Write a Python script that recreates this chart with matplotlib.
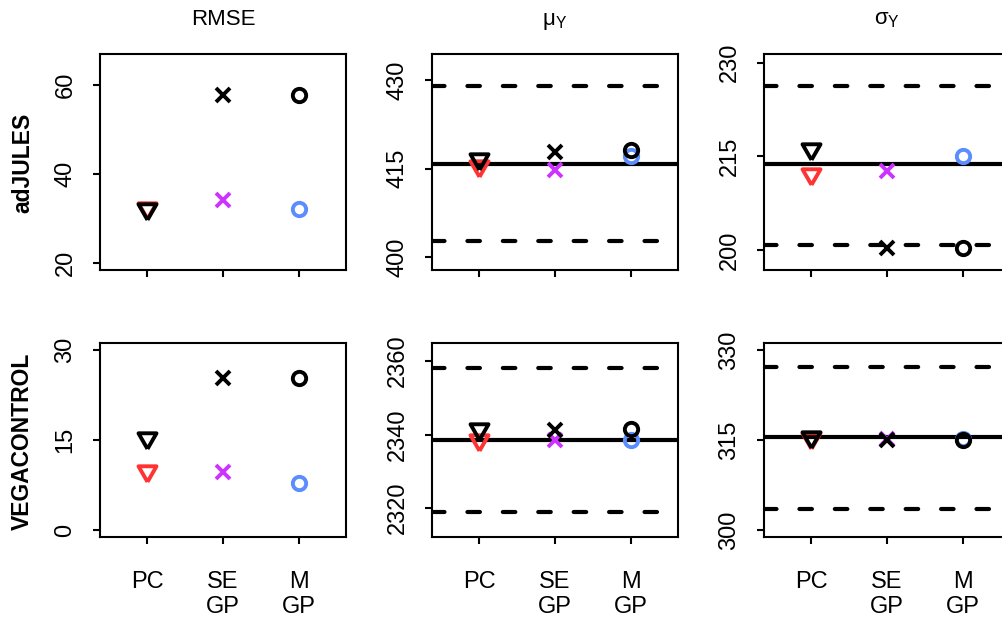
import numpy as np
import matplotlib.pyplot as plt

plt.rcParams['font.family'] = ['Liberation Sans', 'DejaVu Sans']
plt.rcParams['mathtext.fontset'] = 'custom'
plt.rcParams['mathtext.rm'] = 'Liberation Sans'
plt.rcParams['mathtext.it'] = 'Liberation Sans:italic'

# methods on the x axis
methods = ['PC', 'SE\nGP', 'M\nGP']
rows = ['adJULES', 'VEGACONTROL']
cols = ['RMSE', r'$\mathrm{\mu_Y}$', r'$\mathrm{\sigma_Y}$']

# black markers (triangle, x, circle) per row / column
black_adjules_rmse = [32.3, 57.8, 57.8]
black_adjules_mu = [416.7, 417.9, 418.1]
black_adjules_sigma = [216.2, 200.4, 200.4]
black_vega_rmse = [15.3, 25.4, 25.4]
black_vega_mu = [2341.4, 2341.3, 2341.4]
black_vega_sigma = [315.5, 315.0, 315.0]

# coloured markers
col_adjules_rmse = [32.5, 34.2, 32.3]
col_adjules_mu = [415.4, 414.7, 417.1]
col_adjules_sigma = [212.1, 212.6, 215.0]
col_vega_rmse = [9.8, 9.6, 7.9]
col_vega_mu = [2338.4, 2338.4, 2338.6]
col_vega_sigma = [315.3, 315.1, 315.1]

# reference lines: truth, lower and upper bounds (None for RMSE)
truth_adjules = [None, 415.85, 213.8]
lower_adjules = [None, 402.8, 200.8]
upper_adjules = [None, 429.0, 226.3]
truth_vega = [None, 2338.6, 315.55]
lower_vega = [None, 2319.1, 303.5]
upper_vega = [None, 2358.0, 327.1]

yticks_adjules = [[20, 40, 60], [400, 415, 430], [200, 215, 230]]
yticks_vega = [[0, 15, 30], [2320, 2340, 2360], [300, 315, 330]]
ylims_adjules = [(18.5, 67.0), (397.85, 434.4), (196.8, 231.4)]
ylims_vega = [(-1.2, 31.1), (2312.1, 2364.8), (298.8, 331.1)]

black = [[black_adjules_rmse, black_adjules_mu, black_adjules_sigma],
         [black_vega_rmse, black_vega_mu, black_vega_sigma]]
colored = [[col_adjules_rmse, col_adjules_mu, col_adjules_sigma],
           [col_vega_rmse, col_vega_mu, col_vega_sigma]]
truth = [truth_adjules, truth_vega]
lower = [lower_adjules, lower_vega]
upper = [upper_adjules, upper_vega]
yticks = [yticks_adjules, yticks_vega]
ylims = [ylims_adjules, ylims_vega]

method_colors = ['#FF3333', '#CC33FF', '#5B8DFF']
tri = [(0, -1.555), (1.347, 0.778), (-1.347, 0.778), (0, -1.555)]
markers = [tri, 'x', 'o']
msizes = [15, 9.6, 9.6]

W, H = 1003, 622
fig = plt.figure(figsize=(W / 100, H / 100), dpi=100)

col_left = [100, 432, 764]
col_w = 246
row_top = [54, 343.3]
row_bot = [270, 537.3]

x = np.arange(1, 4)
for r in range(2):
    for c in range(3):
        ax = fig.add_axes([col_left[c] / W, 1 - row_bot[r] / H,
                           col_w / W, (row_bot[r] - row_top[r]) / H])
        if truth[r][c] is not None:
            ax.axhline(truth[r][c], color='black', lw=3, zorder=1)
            for v in (lower[r][c], upper[r][c]):
                ax.axhline(v, color='black', lw=3, dashes=(3, 5.5),
                           dash_capstyle='round', zorder=1)
        for i in range(3):
            ax.plot(x[i], colored[r][c][i], marker=markers[i], ms=msizes[i],
                    mfc='none', mec=method_colors[i], mew=2.8, ls='none', zorder=2)
            ax.plot(x[i], black[r][c][i], marker=markers[i], ms=msizes[i],
                    mfc='none', mec='black', mew=2.8, ls='none', zorder=3)
        ax.set_xlim(0.38, 3.62)
        ax.set_ylim(*ylims[r][c])
        ax.set_yticks(yticks[r][c])
        ax.set_xticks(x)
        if r == 1:
            ax.set_xticklabels(methods, fontsize=17, linespacing=1.2)
        else:
            ax.set_xticklabels([])
        ax.tick_params(axis='y', labelrotation=90, labelsize=17, pad=12,
                       length=5, width=1.5)
        ax.tick_params(axis='x', labelsize=17, pad=19, length=5, width=1.5)
        for lab in ax.get_yticklabels():
            lab.set_va('center')
        for s in ax.spines.values():
            s.set_linewidth(1.5)
        if c == 2:
            ax.spines['right'].set_visible(False)
        if r == 0:
            ax.set_title(cols[c], fontsize=16, pad=21)

fig.text(22.5 / W, 1 - 163 / H, rows[0], rotation=90, fontsize=16.5,
         fontweight='bold', ha='center', va='center')
fig.text(22 / W, 1 - 441 / H, rows[1], rotation=90, fontsize=16.5,
         fontweight='bold', ha='center', va='center')

fig.savefig('out.png', dpi=100)
